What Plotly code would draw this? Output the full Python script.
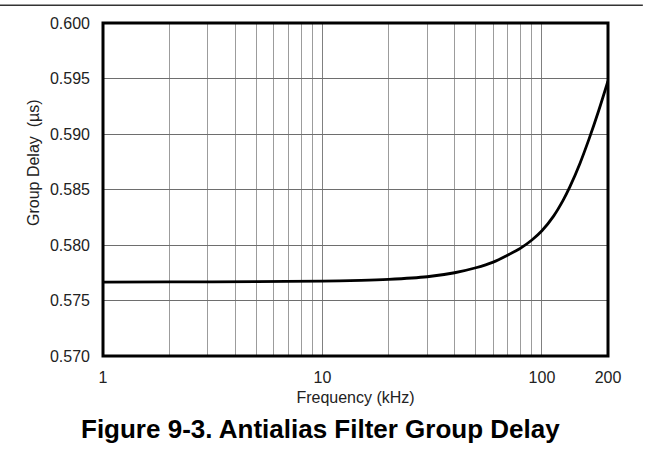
import plotly.graph_objects as go

# Group delay of the antialias filter versus frequency
freq_khz = [1, 2, 5, 10, 15, 20, 30, 40, 50, 60, 70, 80, 90, 100, 113, 125, 134, 149, 164, 181, 200]
delay_us = [0.57666, 0.57667, 0.57670, 0.57675, 0.57681, 0.57690, 0.57714, 0.57750, 0.57795,
            0.57846, 0.57910, 0.57972, 0.58045, 0.58128, 0.58260, 0.58404, 0.58523, 0.58735,
            0.58956, 0.59205, 0.59478]

x_tick_vals = [1, 10, 100, 200]
x_tick_text = ["1", "10", "100", "200"]
x_minor_vals = [2, 3, 4, 5, 6, 7, 8, 9, 20, 30, 40, 50, 60, 70, 80, 90]
y_tick_vals = [0.570, 0.575, 0.580, 0.585, 0.590, 0.595, 0.600]

FONT = "Liberation Sans, Arial, sans-serif"

fig = go.Figure()
fig.add_trace(go.Scatter(
    x=freq_khz, y=delay_us, mode="lines",
    line=dict(color="black", width=2.8, shape="spline", smoothing=0.8),
    hoverinfo="skip", showlegend=False,
))

fig.update_layout(
    width=652, height=452,
    margin=dict(l=103, r=44, t=23, b=96),
    paper_bgcolor="white", plot_bgcolor="white",
    font=dict(family=FONT, color="#222222", size=15),
    xaxis=dict(
        type="log", range=[0, 2.30103],
        tickmode="array", tickvals=x_tick_vals, ticktext=x_tick_text,
        showgrid=True, gridcolor="#808080", gridwidth=1,
        minor=dict(tickmode="array", tickvals=x_minor_vals, showgrid=True,
                   gridcolor="#9c9c9c", gridwidth=1),
        ticks="", ticklabelstandoff=10, zeroline=False, showline=False,
        tickfont=dict(size=16),
        title=dict(text="Frequency (kHz)", font=dict(size=16), standoff=6),
    ),
    yaxis=dict(
        range=[0.570, 0.600],
        tickmode="array", tickvals=y_tick_vals, tickformat=".3f",
        showgrid=True, gridcolor="#6e6e6e", gridwidth=1,
        ticks="", ticklabelstandoff=12, zeroline=False, showline=False,
        tickfont=dict(size=16),
    ),
    shapes=[
        # plot frame
        dict(type="rect", xref="paper", yref="paper", x0=0, x1=1, y0=0, y1=1,
             line=dict(color="black", width=3), layer="above"),
        # rule across the top of the page
        dict(type="line", xref="paper", yref="paper", x0=-0.204, x1=1.069,
             y0=1.053, y1=1.053, line=dict(color="#333333", width=1.5)),
    ],
    annotations=[
        dict(text="Group Delay  (\u00b5s)", xref="paper", yref="paper",
             x=-0.139, y=0.582, textangle=-90, showarrow=False,
             xanchor="center", yanchor="middle", font=dict(size=16)),
        dict(text="<b>Figure 9-3. Antialias Filter Group Delay</b>", xref="paper", yref="paper",
             x=0.430, y=-0.220, showarrow=False, xanchor="center", yanchor="middle",
             font=dict(size=26, color="black")),
    ],
)

fig.write_html("out.html")
